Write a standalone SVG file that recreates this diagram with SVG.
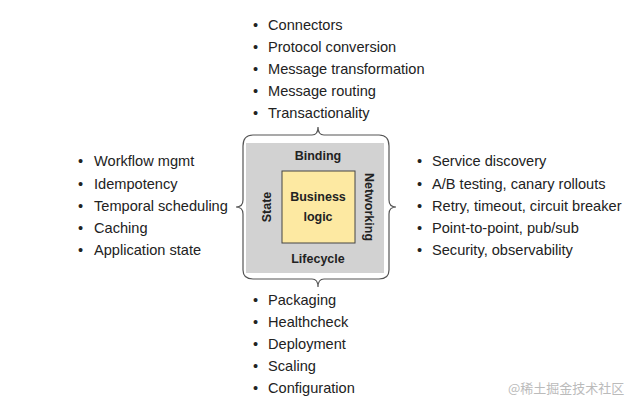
<svg xmlns="http://www.w3.org/2000/svg" width="634" height="404" viewBox="0 0 634 404">
<style>
.t{font-family:"Liberation Sans","Open Sans",sans-serif;font-size:14.6px;fill:#222}
.b{font-family:"Liberation Sans","Open Sans",sans-serif;font-size:12.5px;font-weight:bold;fill:#222;text-anchor:middle}
.br{fill:none;stroke:#555;stroke-width:1.2}
</style>
<rect width="634" height="404" fill="#fff"/>
<g id="core">
<rect x="246" y="143" width="138" height="130" fill="#d2d2d2"/>
<rect x="282" y="171" width="73" height="72" fill="#fde9a2" stroke="#444" stroke-width="1"/>
<text class="b" x="318" y="201">Business</text>
<text class="b" x="318" y="221">logic</text>
<text class="b" x="318" y="160">Binding</text>
<text class="b" x="318" y="263">Lifecycle</text>
<text class="b" transform="translate(271,207) rotate(-90)">State</text>
<text class="b" transform="translate(365,207) rotate(90)">Networking</text>
</g>
<g id="connectors">
<path class="br" d="M243,146 Q243,135 253,135 L312,135 Q318,135 318,127 Q318,135 324,135 L379,135 Q389,135 389,146"/>
<path class="br" d="M243,270 Q243,279 253,279 L312,279 Q318,279 318,287 Q318,279 324,279 L379,279 Q389,279 389,270"/>
<path class="br" d="M243,146 L243,200 Q243,207 236,207 Q243,207 243,214 L243,270"/>
<path class="br" d="M389,146 L389,200 Q389,207 396,207 Q389,207 389,214 L389,270"/>
</g>
<g id="top-list" class="t">
<text x="253" y="30">•</text><text x="268" y="30">Connectors</text>
<text x="253" y="52">•</text><text x="268" y="52">Protocol conversion</text>
<text x="253" y="74">•</text><text x="268" y="74">Message transformation</text>
<text x="253" y="96">•</text><text x="268" y="96">Message routing</text>
<text x="253" y="118">•</text><text x="268" y="118">Transactionality</text>
</g>
<g id="left-list" class="t">
<text x="78" y="166">•</text><text x="94" y="166">Workflow mgmt</text>
<text x="78" y="189">•</text><text x="94" y="189">Idempotency</text>
<text x="78" y="211">•</text><text x="94" y="211">Temporal scheduling</text>
<text x="78" y="233">•</text><text x="94" y="233">Caching</text>
<text x="78" y="255">•</text><text x="94" y="255">Application state</text>
</g>
<g id="right-list" class="t">
<text x="417" y="166">•</text><text x="432" y="166">Service discovery</text>
<text x="417" y="189">•</text><text x="432" y="189">A/B testing, canary rollouts</text>
<text x="417" y="211">•</text><text x="432" y="211">Retry, timeout, circuit breaker</text>
<text x="417" y="233">•</text><text x="432" y="233">Point-to-point, pub/sub</text>
<text x="417" y="255">•</text><text x="432" y="255">Security, observability</text>
</g>
<g id="bottom-list" class="t">
<text x="253" y="305">•</text><text x="268" y="305">Packaging</text>
<text x="253" y="327">•</text><text x="268" y="327">Healthcheck</text>
<text x="253" y="349">•</text><text x="268" y="349">Deployment</text>
<text x="253" y="371">•</text><text x="268" y="371">Scaling</text>
<text x="253" y="393">•</text><text x="268" y="393">Configuration</text>
</g>
<text x="508" y="393" style="font-family:'Noto Sans CJK SC',sans-serif;font-size:13px;fill:#bbb">@稀土掘金技术社区</text>
</svg>
